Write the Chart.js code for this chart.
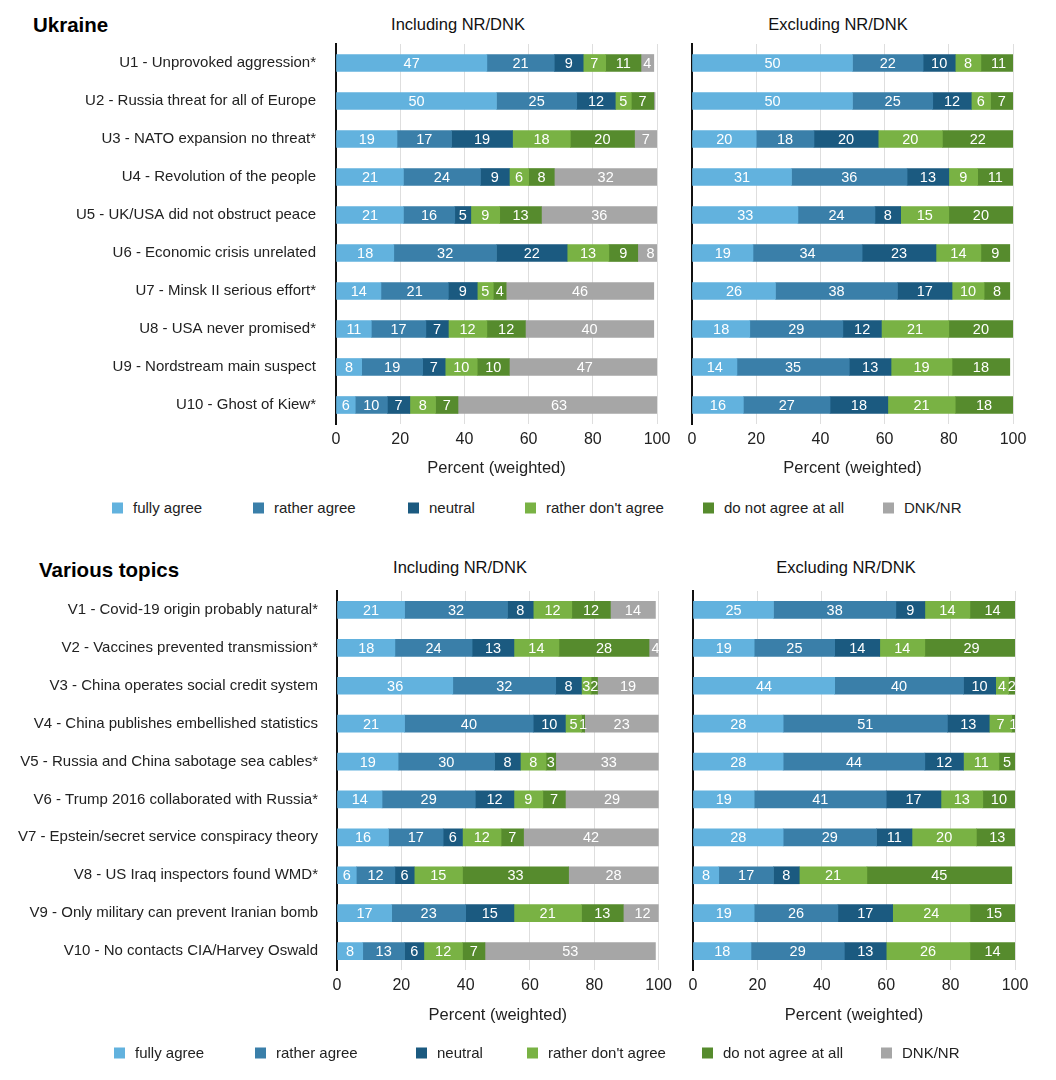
<!DOCTYPE html>
<html><head><meta charset="utf-8">
<script src="https://cdn.jsdelivr.net/npm/chart.js@4/dist/chart.umd.min.js"></script>
<style>
body{margin:0;background:#fff;width:1056px;height:1080px;position:relative;overflow:hidden;font-family:"Liberation Sans",Arial,Helvetica,sans-serif;color:#222}
canvas{position:absolute}
.t{position:absolute;white-space:nowrap;line-height:1.2}
.c{transform:translate(-50%,-50%)}
.l{transform:translate(0,-50%)}
.h{font-weight:bold;font-size:20.5px;color:#000}
.s{font-size:16.5px;color:#111}
.lg{font-size:15px;color:#222}
.sq{position:absolute;width:11px;height:11px;transform:translate(0,-50%)}
</style>
</head><body>
<div class="t l h" style="left:33px;top:25px">Ukraine</div>
<div class="t c s" style="left:458px;top:25px">Including NR/DNK</div>
<div class="t c s" style="left:838px;top:25px">Excluding NR/DNK</div>
<div class="t l h" style="left:39px;top:570px">Various topics</div>
<div class="t c s" style="left:460px;top:568px">Including NR/DNK</div>
<div class="t c s" style="left:846px;top:568px">Excluding NR/DNK</div>

<canvas id="ul" width="678" height="490" style="left:0;top:0;width:678px;height:490px"></canvas>
<canvas id="ur" width="376" height="490" style="left:680px;top:0;width:376px;height:490px"></canvas>
<canvas id="vl" width="678" height="533" style="left:0;top:547px;width:678px;height:533px"></canvas>
<canvas id="vr" width="376" height="533" style="left:680px;top:547px;width:376px;height:533px"></canvas>

<script>
// ---- data ----
const legendLabels = ["fully agree", "rather agree", "neutral", "rather don't agree", "do not agree at all", "DNK/NR"];
const tickValues = [0, 20, 40, 60, 80, 100];

const ukraineCategories = [
  "U1 - Unprovoked aggression*",
  "U2 - Russia threat for all of Europe",
  "U3 - NATO expansion no threat*",
  "U4 - Revolution of the people",
  "U5 - UK/USA did not obstruct peace",
  "U6 - Economic crisis unrelated",
  "U7 - Minsk II serious effort*",
  "U8 - USA never promised*",
  "U9 - Nordstream main suspect",
  "U10 - Ghost of Kiew*"
];
const variousCategories = [
  "V1 - Covid-19 origin probably natural*",
  "V2 - Vaccines prevented transmission*",
  "V3 - China operates social credit system",
  "V4 - China publishes embellished statistics",
  "V5 - Russia and China sabotage sea cables*",
  "V6 - Trump 2016 collaborated with Russia*",
  "V7 - Epstein/secret service conspiracy theory",
  "V8 - US Iraq inspectors found WMD*",
  "V9 - Only military can prevent Iranian bomb",
  "V10 - No contacts CIA/Harvey Oswald"
];

// Ukraine, including NR/DNK
const uInFully     = [47, 50, 19, 21, 21, 18, 14, 11, 8, 6];
const uInRather    = [21, 25, 17, 24, 16, 32, 21, 17, 19, 10];
const uInNeutral   = [9, 12, 19, 9, 5, 22, 9, 7, 7, 7];
const uInRatherNot = [7, 5, 18, 6, 9, 13, 5, 12, 10, 8];
const uInNotAtAll  = [11, 7, 20, 8, 13, 9, 4, 12, 10, 7];
const uInDnk       = [4, 0.4, 7, 32, 36, 8, 46, 40, 47, 63];
// Ukraine, excluding NR/DNK
const uExFully     = [50, 50, 20, 31, 33, 19, 26, 18, 14, 16];
const uExRather    = [22, 25, 18, 36, 24, 34, 38, 29, 35, 27];
const uExNeutral   = [10, 12, 20, 13, 8, 23, 17, 12, 13, 18];
const uExRatherNot = [8, 6, 20, 9, 15, 14, 10, 21, 19, 21];
const uExNotAtAll  = [11, 7, 22, 11, 20, 9, 8, 20, 18, 18];
// Various, including NR/DNK
const vInFully     = [21, 18, 36, 21, 19, 14, 16, 6, 17, 8];
const vInRather    = [32, 24, 32, 40, 30, 29, 17, 12, 23, 13];
const vInNeutral   = [8, 13, 8, 10, 8, 12, 6, 6, 15, 6];
const vInRatherNot = [12, 14, 3, 5, 8, 9, 12, 15, 21, 12];
const vInNotAtAll  = [12, 28, 2, 1, 3, 7, 7, 33, 13, 7];
const vInDnk       = [14, 4, 19, 23, 33, 29, 42, 28, 12, 53];
// Various, excluding NR/DNK
const vExFully     = [25, 19, 44, 28, 28, 19, 28, 8, 19, 18];
const vExRather    = [38, 25, 40, 51, 44, 41, 29, 17, 26, 29];
const vExNeutral   = [9, 14, 10, 13, 12, 17, 11, 8, 17, 13];
const vExRatherNot = [14, 14, 4, 7, 11, 13, 20, 21, 24, 26];
const vExNotAtAll  = [14, 29, 2, 1, 5, 10, 13, 45, 15, 14];

// ---- style ----
const colors = ["#62b2de", "#3a7fa9", "#1b5a80", "#79b244", "#568b2d", "#a6a6a6"];
const FONT = '"Liberation Sans", Arial, Helvetica, sans-serif';
Chart.defaults.font.family = FONT;
Chart.defaults.color = '#222';

const valueLabels = {
  id: 'valueLabels',
  afterDatasetsDraw(chart) {
    const {ctx, chartArea: a} = chart;
    ctx.save();
    ctx.beginPath();
    ctx.rect(a.left, a.top, a.right - a.left, a.bottom - a.top);
    ctx.clip();
    ctx.font = '14.5px ' + FONT;
    ctx.fillStyle = '#fff';
    ctx.textAlign = 'center';
    ctx.textBaseline = 'middle';
    chart.data.datasets.forEach((ds, i) => {
      const meta = chart.getDatasetMeta(i);
      meta.data.forEach((el, j) => {
        const v = Math.round(ds.data[j]);
        if (v < 1) return;
        const p = el.getProps(['x', 'base', 'y'], true);
        ctx.fillText(String(v), (p.x + p.base) / 2, p.y + 1);
      });
    });
    ctx.restore();
  }
};

function makeChart(id, cats, series, o) {
  new Chart(document.getElementById(id), {
    type: 'bar',
    data: {
      labels: cats,
      datasets: series.map((d, i) => ({
        label: legendLabels[i], data: d, backgroundColor: colors[i],
        barThickness: 17, borderWidth: 0
      }))
    },
    options: {
      indexAxis: 'y', responsive: false, animation: false,
      layout: {padding: {top: o.pt, right: o.pr, bottom: o.pb, left: 0}},
      plugins: {legend: {display: false}, tooltip: {enabled: false}, title: {display: false}},
      scales: {
        x: {
          stacked: true, min: 0, max: 100,
          afterBuildTicks: s => { s.ticks = tickValues.map(v => ({value: v})); },
          ticks: {padding: 6, color: '#222', font: {size: 16}},
          grid: {color: c => (c.tick && c.tick.value === 0) ? 'rgba(0,0,0,0)' : '#dedede', drawTicks: false, lineWidth: 1},
          border: {display: false},
          title: {display: true, text: 'Percent (weighted)', color: '#222', font: {size: 16.5}, padding: {top: 0, bottom: 4}},
          afterFit: s => { s.height = o.xh; }
        },
        y: {
          stacked: true,
          ticks: {display: o.showY, padding: o.yp, color: '#222', font: {size: 15}},
          grid: {display: false, drawTicks: false},
          border: {display: true, color: '#111', width: 2},
          afterFit: s => { s.width = o.yw; }
        }
      }
    },
    plugins: [valueLabels]
  });
}

makeChart('ul', ukraineCategories,
  [uInFully, uInRather, uInNeutral, uInRatherNot, uInNotAtAll, uInDnk],
  {pt: 44, pr: 21, pb: 8, xh: 58, yw: 336, yp: 20, showY: true});
makeChart('ur', ukraineCategories,
  [uExFully, uExRather, uExNeutral, uExRatherNot, uExNotAtAll],
  {pt: 44, pr: 43, pb: 8, xh: 58, yw: 12, yp: 0, showY: false});
makeChart('vl', variousCategories,
  [vInFully, vInRather, vInNeutral, vInRatherNot, vInNotAtAll, vInDnk],
  {pt: 44, pr: 19, pb: 51, xh: 59, yw: 337, yp: 19, showY: true});
makeChart('vr', variousCategories,
  [vExFully, vExRather, vExNeutral, vExRatherNot, vExNotAtAll],
  {pt: 44, pr: 41, pb: 51, xh: 59, yw: 13, yp: 0, showY: false});

// ---- legends (HTML) ----
function addLegend(y, xs) {
  legendLabels.forEach((lab, i) => {
    const sq = document.createElement('div');
    sq.className = 'sq';
    sq.style.left = xs[i] + 'px'; sq.style.top = y + 'px';
    sq.style.background = colors[i];
    document.body.appendChild(sq);
    const t = document.createElement('div');
    t.className = 't l lg';
    t.style.left = (xs[i] + 21) + 'px'; t.style.top = y + 'px';
    t.textContent = lab;
    document.body.appendChild(t);
  });
}
addLegend(508, [112, 253, 408, 525, 703, 883]);
addLegend(1053, [114, 255, 416, 527, 702, 881]);
</script>
</body></html>
